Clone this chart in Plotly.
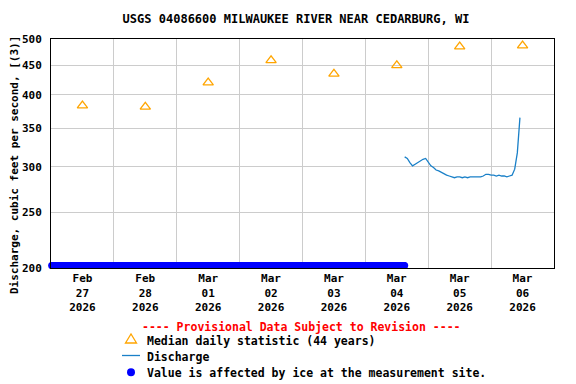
import plotly.graph_objects as go
import pandas as pd
import numpy as np

# ---- data ----
median_dates = ["2026-02-27 12:00", "2026-02-28 12:00", "2026-03-01 12:00", "2026-03-02 12:00",
                "2026-03-03 12:00", "2026-03-04 12:00", "2026-03-05 12:00", "2026-03-06 12:00"]
median_values = [383, 381, 420, 459, 435, 450, 485, 487]

discharge_start = "2026-03-04 15:00"
discharge_values = [312, 310, 305, 301, 303, 305, 308, 309, 310, 305,
                    301, 299, 296, 295, 293, 292, 290, 289, 288, 287,
                    288, 288, 287, 288, 287, 288, 288, 288, 288, 288,
                    289, 291, 291, 290, 290, 289, 290, 289, 289, 288,
                    289, 290, 297, 317, 365]

ice_start = "2026-02-27 00:15"
ice_end = "2026-03-04 15:00"
ice_value = 202

y_ticks = [200, 250, 300, 350, 400, 450, 500]

title_text = "USGS 04086600 MILWAUKEE RIVER NEAR CEDARBURG, WI"
y_title = "Discharge, cubic feet per second, [(3)]"
provisional = "---- Provisional Data Subject to Revision ----"
legend_labels = ["Median daily statistic (44 years)", "Discharge",
                 "Value is affected by ice at the measurement site."]

FONT = "DejaVu Sans Mono"
ORANGE = "#ffa500"
LINEBLUE = "#1a80c8"
ICEBLUE = "#0000ff"

discharge_times = pd.date_range(discharge_start, periods=len(discharge_values), freq="h")
ice_times = pd.date_range(ice_start, ice_end, freq="15min")

fig = go.Figure()
fig.add_trace(go.Scatter(x=ice_times, y=[ice_value] * len(ice_times), mode="markers",
                         marker=dict(color=ICEBLUE, size=7), cliponaxis=False,
                         showlegend=False, hoverinfo="skip"))
fig.add_trace(go.Scatter(x=discharge_times, y=discharge_values, mode="lines",
                         line=dict(color=LINEBLUE, width=1.3), showlegend=False))
fig.add_trace(go.Scatter(x=pd.to_datetime(median_dates), y=median_values, mode="markers",
                         marker=dict(symbol="triangle-up-open", color=ORANGE, size=9,
                                     line=dict(width=1.3, color=ORANGE)),
                         showlegend=False))

W, H = 576, 384
L, R, T, B = 51, 22, 39, 116
pw, ph = W - L - R, H - T - B

def px(x):
    return (x - L) / pw

def py(y):
    return (H - B - y) / ph

fig.update_layout(
    width=W, height=H,
    margin=dict(l=L, r=R, t=T, b=B),
    paper_bgcolor="white", plot_bgcolor="white",
    font=dict(family=FONT, size=11, color="black", weight="bold"),
    title=dict(text=title_text, x=296 / W, xanchor="center", y=1 - 19 / H, yanchor="middle",
               font=dict(family=FONT, size=12, color="black", weight="bold")),
    showlegend=False,
)

fig.update_xaxes(
    type="date", range=["2026-02-27 00:00", "2026-03-07 00:00"],
    dtick=86400000, tick0="2026-02-27", ticklabelmode="period",
    tickformat="%b<br>%d<br>%Y", ticks="",
    showgrid=True, gridcolor="#cccccc", gridwidth=1,
    showline=True, linecolor="black", linewidth=1, mirror=True,
    tickfont=dict(family=FONT, size=11, weight="bold"),
    zeroline=False,
)
fig.update_yaxes(
    type="log", range=[np.log10(200), np.log10(500)],
    tickvals=y_ticks, ticktext=[str(v) for v in y_ticks], ticks="",
    ticklabelstandoff=6,
    showgrid=True, gridcolor="#cccccc", gridwidth=1,
    showline=True, linecolor="black", linewidth=1, mirror=True,
    tickfont=dict(family=FONT, size=11, weight="bold"),
    zeroline=False,
)

ann = []
ann.append(dict(text=y_title, textangle=-90, xref="paper", yref="paper",
                x=px(14), y=py(165), showarrow=False, xanchor="center", yanchor="middle",
                font=dict(family=FONT, size=11, weight="bold")))
ann.append(dict(text=provisional, xref="paper", yref="paper", x=px(301), y=py(327),
                showarrow=False, xanchor="center", yanchor="middle",
                font=dict(family=FONT, size=11.5, color="red", weight="bold")))
rows = [341, 357, 373]
for lab, ry in zip(legend_labels, rows):
    ann.append(dict(text=lab, xref="paper", yref="paper", x=px(145), y=py(ry),
                    showarrow=False, xanchor="left", yanchor="middle",
                    font=dict(family=FONT, size=11.5, weight="bold")))
fig.update_layout(annotations=ann)

shapes = []
# triangle symbol
tx, ty = 131, 338.5
shapes.append(dict(type="path", xref="paper", yref="paper",
                   path=f"M {px(tx-5.5)} {py(ty+4.5)} L {px(tx+5.5)} {py(ty+4.5)} L {px(tx)} {py(ty-4.5)} Z",
                   line=dict(color=ORANGE, width=1.3), fillcolor="rgba(0,0,0,0)"))
# line symbol
shapes.append(dict(type="line", xref="paper", yref="paper", x0=px(122), x1=px(140),
                   y0=py(355.5), y1=py(355.5), line=dict(color=LINEBLUE, width=1.3)))
# dot symbol
shapes.append(dict(type="circle", xref="paper", yref="paper", x0=px(127), x1=px(135),
                   y0=py(376.3), y1=py(368.3), line=dict(color=ICEBLUE, width=0),
                   fillcolor=ICEBLUE))
fig.update_layout(shapes=shapes)

fig.write_html("out.html", config={"displayModeBar": False},
               post_script="document.body.style.margin='0';document.body.style.padding='0';")
